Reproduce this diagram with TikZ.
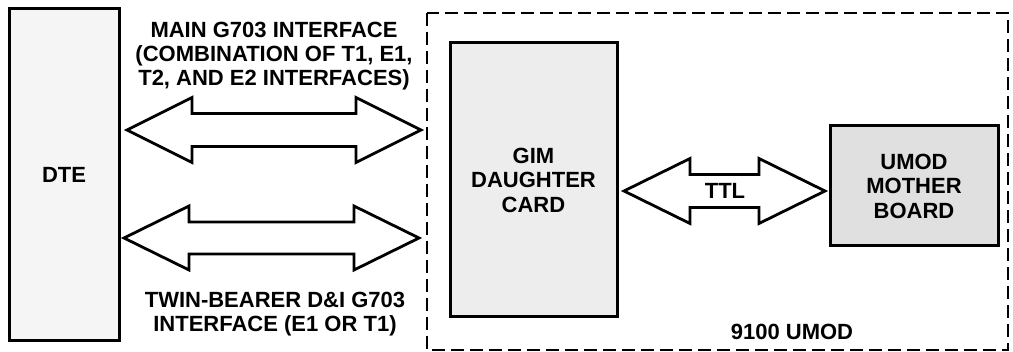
\documentclass[tikz,border=0pt]{standalone}
\usepackage{fontspec}
\setmainfont{Liberation Sans}
\begin{document}
\begin{tikzpicture}[x=1pt,y=-1pt,
  blk/.style={draw=black,line width=3pt,rectangle,inner sep=0pt,align=center,
    font=\bfseries\fontsize{22}{24.5}\selectfont},
  lbl/.style={align=center,inner sep=0pt,font=\bfseries\fontsize{22}{24}\selectfont},
  barrow/.style={draw=black,line width=2.8pt,fill=white,line join=miter}]
\useasboundingbox (0,0) rectangle (1013,352);
% containers
\draw[line width=1.8pt,dash pattern=on 13pt off 6pt] (427,13) rectangle (1008,350);
\node[blk,fill=black!4,minimum width=110pt,minimum height=332pt] (dte) at (64,175) {DTE};
\node[blk,fill=black!7,minimum width=167pt,minimum height=274pt] (gim) at (533.5,180) {GIM\\DAUGHTER\\CARD};
\node[blk,fill=black!12,minimum width=168pt,minimum height=120pt] (umod) at (914,186) {UMOD\\MOTHER\\BOARD};
% labels
\node[lbl] (toplbl) at (274,56) {MAIN G703 INTERFACE\\(COMBINATION OF T1, E1,\\T2, AND E2 INTERFACES)};
\node[lbl] (botlbl) at (275,314) {TWIN-BEARER D\&I G703\\INTERFACE (E1 OR T1)};
\node[lbl] (umodlbl) at (792,332) {9100 UMOD};
% block arrow tips
\coordinate (a1l) at (127,130); \coordinate (a1r) at (421,130);
\coordinate (a2l) at (124,238); \coordinate (a2r) at (419,238);
\coordinate (a3l) at (624,191); \coordinate (a3r) at (825,191);
\draw[barrow] (a1l) -- ++(65,-32.5) -- ++(0,16) -- ++(164,0) -- ++(0,-16) -- (a1r)
  -- ++(-65,32.5) -- ++(0,-16) -- ++(-164,0) -- ++(0,16) -- cycle;
\draw[barrow] (a2l) -- ++(65,-32) -- ++(0,16) -- ++(165,0) -- ++(0,-16) -- (a2r)
  -- ++(-65,32) -- ++(0,-16) -- ++(-165,0) -- ++(0,16) -- cycle;
\draw[barrow] (a3l) -- ++(66,-32.5) -- ++(0,16) -- ++(69,0) -- ++(0,-16) -- (a3r)
  -- ++(-66,32.5) -- ++(0,-16) -- ++(-69,0) -- ++(0,16) -- cycle;
\node[lbl] (ttl) at (725,191) {TTL};
\end{tikzpicture}
\end{document}
